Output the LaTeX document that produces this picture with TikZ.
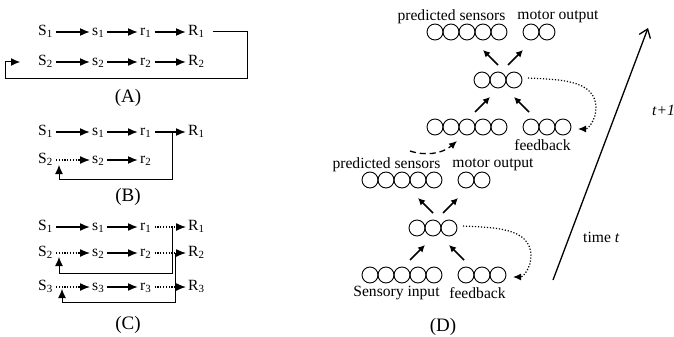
\documentclass[tikz,border=0pt]{standalone}
\usepackage{fontspec}
\setmainfont{Liberation Serif}
\usetikzlibrary{arrows.meta}
\newcommand\circs[3]{\foreach \k in {1,...,#3}{\draw[circ] ({#1+16*\k-8},#2) circle[radius=8pt];}}
\begin{document}
\begin{tikzpicture}[x=1pt,y=-1pt,
  every node/.style={font=\fontsize{15.6}{18}\selectfont},
  lab/.style={inner sep=0pt, anchor=west, text height=9pt, text depth=2pt},
  plab/.style={font=\fontsize{19}{22}\selectfont},
  arr/.style={line width=1.6pt, -{Latex[length=10pt,width=8pt]}, shorten <=3pt, shorten >=2pt},
  darr/.style={arr, line width=1.3pt, dash pattern=on 1.2pt off 1.6pt},
  fb/.style={line width=1pt, -{Latex[length=9pt,width=8pt]}},
  circ/.style={line width=0.9pt},
  narr/.style={line width=1.5pt, -{Latex[length=7pt,width=7pt]}},
  dotc/.style={line width=1.2pt, dash pattern=on 1.2pt off 1.8pt, -{Latex[length=8pt,width=7pt]}},
  dashc/.style={line width=1.3pt, dash pattern=on 6pt off 4pt, -{Latex[length=8pt,width=7pt]}},
  bigarr/.style={line width=1.3pt, -{Straight Barb[length=8pt,width=12pt]}}
]
\useasboundingbox (0,0) rectangle (674,337);

% ---------- (A)
\node[lab] (AS1) at (38,32) {S\textsubscript{1}};
\node[lab] (As1) at (92,32) {s\textsubscript{1}};
\node[lab] (Ar1) at (140,32) {r\textsubscript{1}};
\node[lab] (AR1) at (188,32) {R\textsubscript{1}};
\node[lab] (AS2) at (38,62) {S\textsubscript{2}};
\node[lab] (As2) at (92,62) {s\textsubscript{2}};
\node[lab] (Ar2) at (140,62) {r\textsubscript{2}};
\node[lab] (AR2) at (188,62) {R\textsubscript{2}};
\draw[arr] (AS1) -- (As1);
\draw[arr] (As1) -- (Ar1);
\draw[arr] (Ar1) -- (AR1);
\draw[arr] (AS2) -- (As2);
\draw[arr] (As2) -- (Ar2);
\draw[arr] (Ar2) -- (AR2);
\coordinate (Ac1) at (247,78);
\coordinate (Ac2) at (5,78);
\draw[fb] ([xshift=8pt]AR1.east) -| (Ac1) -- (Ac2) |- ([xshift=-18pt]AS2.west);
\node[plab] (Alab) at (128,98) {(A)};

% ---------- (B)
\node[lab] (BS1) at (38,132) {S\textsubscript{1}};
\node[lab] (Bs1) at (92,132) {s\textsubscript{1}};
\node[lab] (Br1) at (140,132) {r\textsubscript{1}};
\node[lab] (BR1) at (188,132) {R\textsubscript{1}};
\node[lab] (BS2) at (38,160) {S\textsubscript{2}};
\node[lab] (Bs2) at (92,160) {s\textsubscript{2}};
\node[lab] (Br2) at (140,160) {r\textsubscript{2}};
\draw[arr] (BS1) -- (Bs1);
\draw[arr] (Bs1) -- (Br1);
\draw[arr] (Br1) -- (BR1);
\draw[darr] (BS2) -- (Bs2);
\draw[arr] (Bs2) -- (Br2);
\coordinate (Bc0) at (172,132);
\coordinate (Bc1) at (59,179);
\coordinate (Bt) at (59,165);
\draw[fb] (Bc0) |- (Bc1) -- (Bt);
\node[plab] (Blab) at (128,197) {(B)};

% ---------- (C)
\node[lab] (CS1) at (38,227) {S\textsubscript{1}};
\node[lab] (Cs1) at (92,227) {s\textsubscript{1}};
\node[lab] (Cr1) at (140,227) {r\textsubscript{1}};
\node[lab] (CR1) at (188,227) {R\textsubscript{1}};
\node[lab] (CS2) at (38,253) {S\textsubscript{2}};
\node[lab] (Cs2) at (92,253) {s\textsubscript{2}};
\node[lab] (Cr2) at (140,253) {r\textsubscript{2}};
\node[lab] (CR2) at (188,253) {R\textsubscript{2}};
\node[lab] (CS3) at (38,287) {S\textsubscript{3}};
\node[lab] (Cs3) at (92,287) {s\textsubscript{3}};
\node[lab] (Cr3) at (140,287) {r\textsubscript{3}};
\node[lab] (CR3) at (188,287) {R\textsubscript{3}};
\draw[arr] (CS1) -- (Cs1);
\draw[arr] (Cs1) -- (Cr1);
\draw[darr] (Cr1) -- (CR1);
\draw[darr] (CS2) -- (Cs2);
\draw[arr] (Cs2) -- (Cr2);
\draw[darr] (Cr2) -- (CR2);
\draw[darr] (CS3) -- (Cs3);
\draw[arr] (Cs3) -- (Cr3);
\draw[darr] (Cr3) -- (CR3);
\coordinate (Cc0) at (172,227);
\coordinate (Cc1) at (59,273);
\coordinate (Ct1) at (59,257);
\draw[fb] (Cc0) |- (Cc1) -- (Ct1);
\coordinate (Cd0) at (175,253);
\coordinate (Cd1) at (62,302);
\coordinate (Ct2) at (62,289);
\draw[fb] (Cd0) |- (Cd1) -- (Ct2);
\node[plab] (Clab) at (128,325) {(C)};

% ---------- (D) lower block (time t)
\circs{362}{180}{5}
\circs{458}{180}{2}
\circs{409}{228}{3}
\circs{362}{275}{5}
\circs{458}{275}{3}
\coordinate (l1a) at (433,213); \coordinate (l1b) at (418,198);
\coordinate (l2a) at (443,213); \coordinate (l2b) at (458,198);
\coordinate (l3a) at (410,260); \coordinate (l3b) at (425,245);
\coordinate (l4a) at (464,260); \coordinate (l4b) at (449,245);
\draw[narr] (l1a) -- (l1b);
\draw[narr] (l2a) -- (l2b);
\draw[narr] (l3a) -- (l3b);
\draw[narr] (l4a) -- (l4b);
\coordinate (ld0) at (463,226); \coordinate (ld1) at (531,256); \coordinate (ld2) at (513,277);
\draw[dotc] (ld0) to[out=-3,in=90] (ld1) to[out=-90,in=0] (ld2);
\node (Lps) at (386.5,165) {predicted sensors};
\node (Lmo) at (493,165) {motor output};
\node (Lsi) at (396.5,293) {Sensory input};
\node (Lfb) at (477.5,293) {feedback};
\node[plab] (Dlab) at (443,327) {(D)};

% ---------- (D) upper block (t+1)
\circs{427}{32}{5}
\circs{523}{32}{2}
\circs{474}{80}{3}
\circs{427}{127}{5}
\circs{523}{127}{3}
\coordinate (u1a) at (498,65); \coordinate (u1b) at (483,50);
\coordinate (u2a) at (508,65); \coordinate (u2b) at (523,50);
\coordinate (u3a) at (475,112); \coordinate (u3b) at (490,97);
\coordinate (u4a) at (529,112); \coordinate (u4b) at (514,97);
\draw[narr] (u1a) -- (u1b);
\draw[narr] (u2a) -- (u2b);
\draw[narr] (u3a) -- (u3b);
\draw[narr] (u4a) -- (u4b);
\coordinate (ud0) at (528,78); \coordinate (ud1) at (596,108); \coordinate (ud2) at (578,129);
\draw[dotc] (ud0) to[out=-3,in=90] (ud1) to[out=-90,in=0] (ud2);
\node (Ups) at (451.5,17) {predicted sensors};
\node (Umo) at (558,17) {motor output};
\node (Ufb) at (542.5,145) {feedback};
\coordinate (da) at (410,151); \coordinate (db) at (457,141);
\draw[dashc] (da) .. controls (425,156) and (442,154) .. (db);

% ---------- time arrow
\coordinate (ta) at (553,280); \coordinate (tb) at (648,28);
\draw[bigarr] (ta) -- (tb);
\node[anchor=west, inner sep=0pt] (tlab) at (583,237) {time \textit{t}};
\node[anchor=west, inner sep=0pt] (t1lab) at (652,110) {\textit{t+1}};
\end{tikzpicture}
\end{document}
